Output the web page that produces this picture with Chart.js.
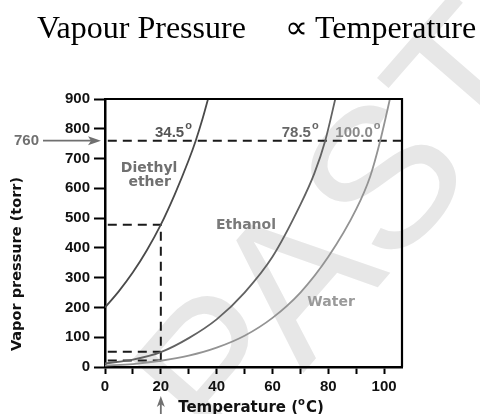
<!DOCTYPE html>
<html>
<head>
<meta charset="utf-8">
<script src="https://cdn.jsdelivr.net/npm/chart.js@4"></script>
<style>
  html,body{margin:0;padding:0;background:#fff;}
  #wrap{position:relative;width:480px;height:414px;}
</style>
</head>
<body>
<div id="wrap"><canvas id="c" width="480" height="414"></canvas></div>
<script>
// ---- data ----
const etherTemps    = [0, 5, 10, 15, 20, 25, 30, 32.5, 35, 37.5];
const etherPressure = [200, 255, 318, 392, 478, 580, 695, 760, 835, 920];

const ethanolTemps    = [0, 10, 20, 30, 40, 50, 60, 70, 75, 78.9, 83];
const ethanolPressure = [12, 25, 50, 97, 160, 250, 370, 545, 650, 760, 920];

const waterTemps    = [0, 10, 20, 30, 40, 50, 60, 70, 80, 90, 95, 98.6, 102.8];
const waterPressure = [5, 10, 21, 38, 65, 105, 165, 250, 370, 530, 640, 760, 930];

// dashed guide lines (temperature / pressure pairs)
const guide760Temps = [1, 106.4];      const guide760Press = [760, 760];
const guideEtherTemps = [1, 20, 20];   const guideEtherPress = [478, 478, 0];
const guideEthanolTemps = [1, 20];     const guideEthanolPress = [51, 51];
const guideWaterTemps = [1, 20];       const guideWaterPress = [22, 22];

const xTicks = [0, 10, 20, 30, 40, 50, 60, 70, 80, 90, 100];
const yTicks = [0, 100, 200, 300, 400, 500, 600, 700, 800, 900];

const chartTitleLeft = 'Vapour Pressure';
const chartTitleRight = 'Temperature';
const xTitle = 'Temperature (';
const yTitle = 'Vapor pressure (torr)';

const zip = (xs, ys) => xs.map((x, i) => ({x, y: ys[i]}));

const SANS = '"DejaVu Sans", sans-serif';
const ARIAL = '"Liberation Sans", Arial, sans-serif';

const curve = (label, xs, ys, color) => ({
  label, data: zip(xs, ys), borderColor: color, borderWidth: 1.8,
  pointRadius: 0, fill: false, cubicInterpolationMode: 'monotone'
});
const guide = (xs, ys) => ({
  label: 'guide', data: zip(xs, ys), borderColor: '#1a1a1a', borderWidth: 2,
  borderDash: [9, 6], pointRadius: 0, fill: false, tension: 0
});

const decor = {
  id: 'decor',
  beforeDraw(chart) {
    const ctx = chart.ctx;
    ctx.save();
    ctx.fillStyle = '#fff';
    ctx.fillRect(0, 0, chart.width, chart.height);
    // watermark
    ctx.translate(350, 235);
    ctx.rotate(-49 * Math.PI / 180);
    ctx.fillStyle = '#e7e7e7';
    ctx.font = '200px "Liberation Sans", sans-serif';
    ctx.textAlign = 'center';
    ctx.textBaseline = 'middle';
    ctx.fillText('PAST', 0, 0);
    ctx.restore();
  },
  afterDraw(chart) {
    const ctx = chart.ctx;
    const xs = chart.scales.x, ys = chart.scales.y;
    const ca = chart.chartArea;
    const X = v => xs.getPixelForValue(v), Y = v => ys.getPixelForValue(v);
    ctx.save();
    // frame top + right
    ctx.strokeStyle = '#000';
    ctx.lineWidth = 2.2;
    ctx.beginPath();
    ctx.moveTo(ca.left, ca.top); ctx.lineTo(ca.right, ca.top); ctx.lineTo(ca.right, ca.bottom);
    ctx.stroke();

    // title
    ctx.fillStyle = '#000';
    ctx.textAlign = 'left';
    ctx.textBaseline = 'alphabetic';
    ctx.font = '32px "Liberation Serif", "Times New Roman", serif';
    ctx.fillText(chartTitleLeft, 37, 38);
    ctx.fillText('\u221D', 285, 38);
    ctx.fillText(chartTitleRight, 315, 38);

    // degree-labelled text helper
    const degText = (txt, x, y, color) => {
      ctx.fillStyle = color;
      ctx.font = 'bold 15px ' + ARIAL;
      ctx.textAlign = 'left';
      ctx.textBaseline = 'alphabetic';
      ctx.fillText(txt, x, y);
      const w = ctx.measureText(txt).width;
      ctx.font = 'bold 11px ' + ARIAL;
      ctx.fillText('o', x + w + 1, y - 8);
    };
    degText('34.5', X(17.9), Y(773), '#555');
    degText('78.5', X(63.3), Y(773), '#666');
    degText('100.0', X(82.5), Y(773), '#8a8a8a');

    // curve labels
    ctx.textAlign = 'center';
    ctx.textBaseline = 'middle';
    ctx.font = 'bold 14px ' + SANS;
    ctx.fillStyle = '#707070';
    ctx.fillText('Diethyl', X(15.8), Y(668));
    ctx.fillText('ether', X(16), Y(621));
    ctx.fillStyle = '#7a7a7a';
    ctx.fillText('Ethanol', X(50.5), Y(477));
    ctx.fillStyle = '#9a9a9a';
    ctx.fillText('Water', X(81), Y(218));

    // 760 arrow
    const y760 = Y(760);
    ctx.fillStyle = '#707070';
    ctx.strokeStyle = '#707070';
    ctx.font = 'bold 15px ' + ARIAL;
    ctx.textAlign = 'right';
    ctx.fillText('760', 39, y760);
    ctx.lineWidth = 1.8;
    ctx.beginPath(); ctx.moveTo(43, y760); ctx.lineTo(92, y760); ctx.stroke();
    ctx.beginPath(); ctx.moveTo(101, y760); ctx.lineTo(88, y760 - 4.5); ctx.lineTo(91, y760); ctx.lineTo(88, y760 + 4.5); ctx.closePath(); ctx.fill();

    // arrow under 20
    const x20 = X(20);
    ctx.beginPath(); ctx.moveTo(x20, 414); ctx.lineTo(x20, 403); ctx.stroke();
    ctx.beginPath(); ctx.moveTo(x20, 396); ctx.lineTo(x20 - 4, 407); ctx.lineTo(x20, 404); ctx.lineTo(x20 + 4, 407); ctx.closePath(); ctx.fill();

    // axis titles
    ctx.fillStyle = '#111';
    ctx.font = 'bold 14.5px ' + SANS;
    ctx.save();
    ctx.translate(17, 264);
    ctx.rotate(-Math.PI / 2);
    ctx.textAlign = 'center';
    ctx.textBaseline = 'middle';
    ctx.fillText(yTitle, 0, 0);
    ctx.restore();

    ctx.font = 'bold 15px ' + SANS;
    const w1 = ctx.measureText(xTitle).width;
    ctx.font = 'bold 10px ' + SANS;
    const wo = ctx.measureText('o').width;
    ctx.font = 'bold 15px ' + SANS;
    const w2 = ctx.measureText('C)').width;
    const total = w1 + wo + 1 + w2;
    let sx = 251 - total / 2;
    ctx.textAlign = 'left';
    ctx.textBaseline = 'alphabetic';
    ctx.fillText(xTitle, sx, 412);
    ctx.font = 'bold 10px ' + SANS;
    ctx.fillText('o', sx + w1, 405);
    ctx.font = 'bold 15px ' + SANS;
    ctx.fillText('C)', sx + w1 + wo + 1, 412);
    ctx.restore();
  }
};

new Chart(document.getElementById('c'), {
  type: 'line',
  data: {
    datasets: [
      curve('Diethyl ether', etherTemps, etherPressure, '#4a4a4a'),
      curve('Ethanol', ethanolTemps, ethanolPressure, '#626262'),
      curve('Water', waterTemps, waterPressure, '#939393'),
      guide(guide760Temps, guide760Press),
      guide(guideEtherTemps, guideEtherPress),
      guide(guideEthanolTemps, guideEthanolPress),
      guide(guideWaterTemps, guideWaterPress)
    ]
  },
  options: {
    responsive: false,
    animation: false,
    devicePixelRatio: 1,
    layout: { padding: { top: 99, right: 78, left: 0, bottom: 0 } },
    plugins: { legend: { display: false }, tooltip: { enabled: false }, title: { display: false } },
    scales: {
      x: {
        type: 'linear', min: 0, max: 106.4,
        afterBuildTicks: s => { s.ticks = xTicks.map(v => ({value: v})); },
        afterFit: s => { s.height = 47; },
        ticks: {
          autoSkip: false, maxRotation: 0, padding: 4, color: '#111',
          font: { family: ARIAL, weight: 'bold', size: 15 },
          callback: v => (v % 20 === 0 ? String(v) : '')
        },
        grid: { drawOnChartArea: false, drawTicks: true, tickLength: 7, tickColor: '#000', tickWidth: 2 },
        border: { display: true, color: '#000', width: 2.5 }
      },
      y: {
        type: 'linear', min: 0, max: 900,
        afterBuildTicks: s => { s.ticks = yTicks.map(v => ({value: v})); },
        afterFit: s => { s.width = 105; },
        ticks: {
          autoSkip: false, padding: 4, color: '#111',
          font: { family: ARIAL, weight: 'bold', size: 15 }
        },
        grid: { drawOnChartArea: false, drawTicks: true, tickLength: 11, tickColor: '#000', tickWidth: 2 },
        border: { display: true, color: '#000', width: 2.5 }
      }
    }
  },
  plugins: [decor]
});
</script>
</body>
</html>
